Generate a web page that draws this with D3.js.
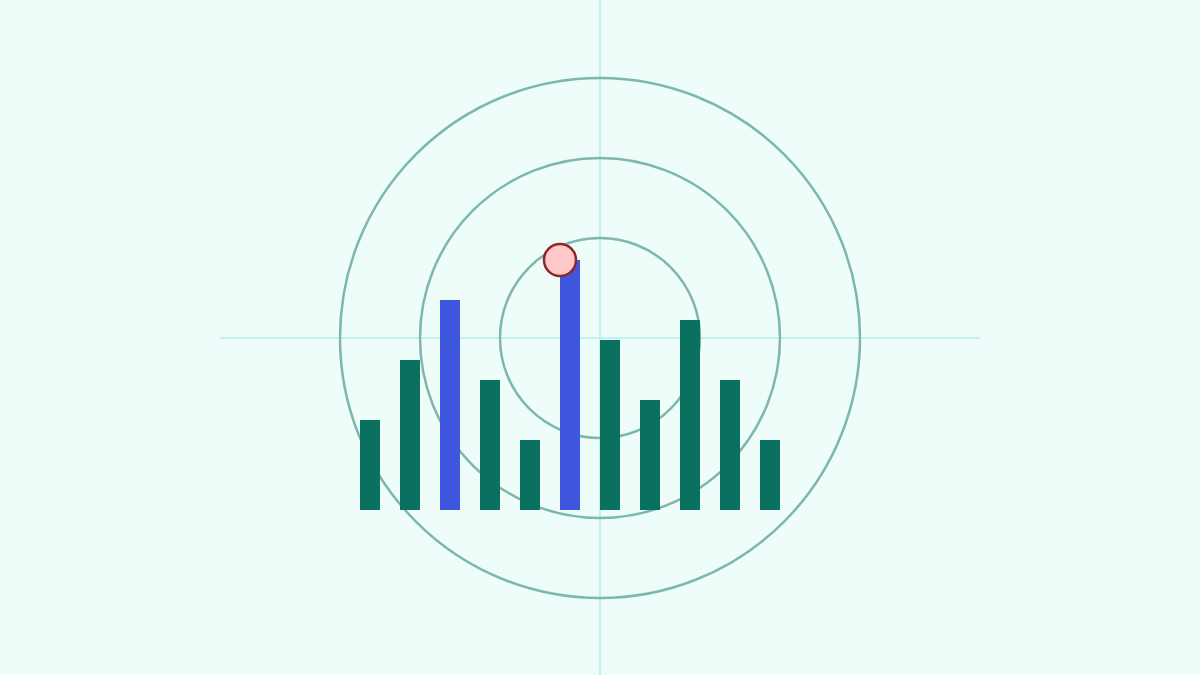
<!DOCTYPE html>
<html><head><meta charset="utf-8">
<script src="https://cdn.jsdelivr.net/npm/d3@7"></script>
<style>html,body{margin:0;padding:0;background:#effdfa;}svg{display:block;}</style>
</head><body>
<svg id="c" width="1200" height="675"></svg>
<script>
const categories = ["A","B","C","D","E","F","G","H","I","J","K"];
const values = [9, 15, 21, 13, 7, 25, 17, 11, 19, 13, 7];
const highlighted = ["C","F"];
const ringRadii = [100, 180, 260];
const markerCategory = "F";

const svg = d3.select("#c");
svg.append("rect").attr("width",1200).attr("height",675).attr("fill","#effdfa");

const cx = 600, cy = 338;
const x = d3.scaleBand().domain(categories).range([350, 790]).paddingInner(0.5).paddingOuter(0.25);
const y = d3.scaleLinear().domain([0, 25]).range([510, 260]);

// crosshair
svg.append("line").attr("x1",220).attr("x2",980).attr("y1",cy).attr("y2",cy)
  .attr("stroke","#c2f2f0").attr("stroke-width",2);
svg.append("line").attr("x1",cx).attr("x2",cx).attr("y1",0).attr("y2",675)
  .attr("stroke","#c2f2f0").attr("stroke-width",2);

// rings
svg.selectAll("circle.ring").data(ringRadii).join("circle").attr("class","ring")
  .attr("cx",cx).attr("cy",cy).attr("r",d=>d)
  .attr("fill","none").attr("stroke","#7db8ab").attr("stroke-width",2.5);

// bars
svg.selectAll("rect.bar").data(categories).join("rect").attr("class","bar")
  .attr("x",d=>x(d)).attr("width",x.bandwidth())
  .attr("y",(d,i)=>y(values[i])).attr("height",(d,i)=>y(0)-y(values[i]))
  .attr("fill",d=>highlighted.includes(d)?"#3f56de":"#0a7160");

// marker
const mi = categories.indexOf(markerCategory);
svg.append("circle").attr("cx",x(markerCategory)).attr("cy",y(values[mi])).attr("r",16)
  .attr("fill","#ffc9c9").attr("stroke","#8a2a2a").attr("stroke-width",2.5);
</script>
</body></html>
